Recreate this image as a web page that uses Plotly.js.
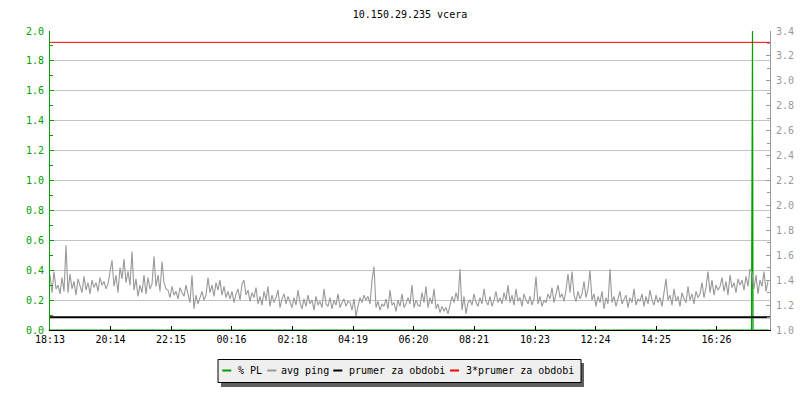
<!DOCTYPE html>
<html>
<head>
<meta charset="utf-8">
<script src="https://cdn.plot.ly/plotly-3.0.1.min.js"></script>
<style>html,body{margin:0;padding:0;background:#fff;}#chart{width:800px;height:400px;}</style>
</head>
<body>
<div id="chart"></div>
<script>
// ---------- DATA ----------
const chartTitle = '10.150.29.235 vcera';
const tickMinutes = [0, 121, 242, 363, 485, 606, 727, 848, 970, 1091, 1212, 1333];
const tickLabels = ['18:13', '20:14', '22:15', '00:16', '02:18', '04:19', '06:20', '08:21', '10:23', '12:24', '14:25', '16:26'];
const seriesNames = ['% PL', 'avg ping', 'prumer za obdobi', '3*prumer za obdobi'];

// avg ping, one sample every 4 minutes starting at 18:13 (right axis, ms)
const pingStepMinutes = 4;
const avgPing = [
  1.44,1.30,1.47,1.33,1.36,1.29,1.42,1.31,1.68,
  1.30,1.45,1.33,1.39,1.28,1.41,1.35,1.30,1.43,1.32,1.38,1.29,
  1.40,1.34,1.38,1.31,1.42,1.36,1.39,1.33,1.37,
  1.46,1.56,1.35,1.44,1.30,1.50,1.41,1.57,1.38,1.47,1.36,
  1.63,
  1.32,1.41,1.27,1.36,1.30,1.44,1.29,
  1.42,1.33,1.37,1.59,1.35,1.44,1.31,1.55,1.38,1.33,
  1.32,1.26,1.35,1.28,1.31,1.25,1.34,1.30,1.27,1.36,
  1.30,1.22,1.44,1.17,1.28,1.21,1.26,1.31,1.24,1.28,
  1.42,1.30,1.36,1.27,1.38,1.32,1.40,1.28,1.35,1.26,1.31,
  1.25,1.31,1.22,1.29,1.33,1.24,1.37,1.40,1.28,1.32,1.23,1.30,1.26,1.34,1.21,
  1.27,1.20,1.31,1.24,1.35,1.19,1.28,1.22,1.26,1.32,1.18,1.25,1.29,1.21,1.27,
  1.23,1.18,1.26,1.20,1.32,1.22,1.17,1.25,1.19,1.28,1.21,1.24,1.16,1.27,1.20,
  1.23,1.18,1.33,1.21,1.19,1.26,1.17,1.24,1.20,1.29,1.18,1.22,1.25,1.19,1.23,
  1.22,1.16,1.25,1.11,1.19,
  1.26,1.22,1.28,1.24,1.27,1.21,1.40,1.51,
  1.18,1.23,1.16,1.21,1.19,1.25,1.17,1.32,1.20,1.22,1.15,1.24,1.19,1.29,1.18,1.21,1.26,
  1.21,1.36,1.18,1.24,1.20,
  1.19,1.30,1.22,1.35,1.18,1.26,1.21,1.33,
  1.17,1.21,1.14,1.19,1.15,1.18,1.13,1.20,
  1.27,1.22,1.30,1.24,
  1.49,
  1.16,1.27,1.13,1.22,
  1.24,1.20,1.29,1.22,1.19,1.26,1.21,1.33,1.23,1.20,1.27,1.19,1.24,1.31,1.22,
  1.26,1.21,1.30,1.24,1.36,1.22,1.28,1.20,1.33,1.23,1.26,1.19,1.29,1.24,1.21,1.27,1.20,1.25,
  1.43,
  1.21,1.27,1.19,1.24,1.22,1.29,
  1.25,1.34,1.22,1.30,1.36,1.26,1.29,1.23,1.32,
  1.45,1.30,1.47,
  1.28,1.23,1.31,1.25,1.29,1.39,1.26,1.33,
  1.48,1.24,1.29,1.19,1.27,1.22,1.31,1.17,1.26,1.21,
  1.49,
  1.22,1.27,1.19,1.25,1.31,1.21,1.24,1.28,1.18,1.26,1.22,1.33,1.20,1.25,1.23,1.29,1.19,1.27,1.21,1.32,1.24,1.20,1.28,1.22,1.26,1.19,1.30,
  1.41,
  1.24,1.28,1.20,1.33,1.23,1.27,1.19,1.30,1.25,1.22,1.35,1.24,1.29,1.21,1.31,1.26,
  1.29,1.38,1.26,1.34,1.47,1.30,1.40,1.28,1.36,1.32,
  1.35,1.42,1.31,1.39,1.28,1.44,1.34,1.38,1.30,1.41,
  1.36,1.40,1.32,1.43,1.35,1.49,1.46,
  1.33,1.44,1.29,1.40,1.35,1.47,1.31,1.39
];

// packet loss (left axis)
const plMinutes = [0, 1403, 1404, 1405, 1406, 1438];
const plValues  = [0, 0, 1.0, 2.0, 0, 0];

// period average and 3x average (right axis)
const periodMinutes = [0, 1440];
const periodAvg = [1.103, 1.103];
const periodAvg3 = [3.309, 3.309];

// ---------- STYLE ----------
const FONT = 'DejaVu Sans Mono, monospace';
const colors = ['#00a000', '#999999', '#000000', '#ff0000'];
const pingMinutes = avgPing.map((_, i) => i * pingStepMinutes);

// plot box in pixels (for placing the hand-drawn legend)
const L = 50, R = 770, T = 31, B = 330;
const px = x => (x - L) / (R - L);
const py = y => (B - y) / (B - T);

const traces = [
  {x: pingMinutes, y: avgPing, yaxis: 'y2', type: 'scatter', mode: 'lines', name: seriesNames[1],
   line: {color: colors[1], width: 1.1}},
  {x: periodMinutes, y: periodAvg, yaxis: 'y2', type: 'scatter', mode: 'lines', name: seriesNames[2],
   line: {color: colors[2], width: 2}},
  {x: periodMinutes, y: periodAvg3, yaxis: 'y2', type: 'scatter', mode: 'lines', name: seriesNames[3],
   line: {color: colors[3], width: 1}},
  {x: plMinutes, y: plValues, yaxis: 'y', type: 'scatter', mode: 'lines', name: seriesNames[0],
   line: {color: colors[0], width: 1.2}}
];

// legend (drawn by hand: short symbols, box with drop shadow)
const legSymX = [222.3, 267.3, 333.3, 450];
const legTextX = [236.7, 280.3, 348, 464.7];
const legY = 370.5;
const shapes = [
  {type: 'rect', xref: 'paper', yref: 'paper', x0: px(221), x1: px(584), y0: py(363), y1: py(387),
   fillcolor: '#606060', line: {width: 0}, layer: 'above'},
  {type: 'rect', xref: 'paper', yref: 'paper', x0: px(218), x1: px(581), y0: py(359.5), y1: py(382.5),
   fillcolor: '#efefef', line: {color: '#000', width: 1}, layer: 'above'}
];
const annotations = [];
seriesNames.forEach((n, i) => {
  shapes.push({type: 'line', xref: 'paper', yref: 'paper', x0: px(legSymX[i]), x1: px(legSymX[i] + 9),
    y0: py(legY), y1: py(legY), line: {color: colors[i], width: 2}, layer: 'above'});
  annotations.push({text: n, xref: 'paper', yref: 'paper', x: px(legTextX[i]), y: py(legY),
    xanchor: 'left', yanchor: 'middle', showarrow: false, font: {family: FONT, size: 10, color: '#000'},
    borderpad: 0});
});

const layout = {
  width: 800, height: 400,
  margin: {l: L, r: 800 - R, t: T, b: 400 - B, pad: 0},
  paper_bgcolor: '#ffffff', plot_bgcolor: '#ffffff',
  showlegend: false,
  font: {family: FONT, size: 10, color: '#000'},
  title: {text: chartTitle, font: {family: FONT, size: 10, color: '#000'},
          x: 0.5, xref: 'paper', xanchor: 'center', y: 1 - 14 / 400, yanchor: 'middle'},
  xaxis: {
    range: [0, 1440], tickvals: tickMinutes, ticktext: tickLabels,
    showgrid: false, zeroline: false, showline: true, linecolor: '#000', linewidth: 1,
    ticks: 'inside', ticklen: 4, tickcolor: '#000', tickwidth: 1,
    tickfont: {family: FONT, size: 10, color: '#000'}, fixedrange: true
  },
  yaxis: {
    range: [0, 2.0], dtick: 0.2, tick0: 0, tickformat: '.1f',
    showgrid: true, gridcolor: '#c4c4c4', gridwidth: 1, zeroline: false,
    showline: true, linecolor: '#00a000', linewidth: 1,
    ticks: 'inside', ticklen: 4, tickcolor: '#00a000',
    minor: {dtick: 0.1, tick0: 0, ticks: 'inside', ticklen: 3, tickcolor: '#00a000', showgrid: false},
    tickfont: {family: FONT, size: 10, color: '#00a000'}, ticklabelstandoff: 3, fixedrange: true
  },
  yaxis2: {
    overlaying: 'y', side: 'right',
    range: [1.0, 3.4], dtick: 0.2, tick0: 1.0, tickformat: '.1f',
    showgrid: false, zeroline: false,
    showline: true, linecolor: '#999999', linewidth: 1,
    ticks: 'inside', ticklen: 4, tickcolor: '#999999',
    minor: {dtick: 0.1, tick0: 1.0, ticks: 'inside', ticklen: 3, tickcolor: '#999999', showgrid: false},
    tickfont: {family: FONT, size: 10, color: '#999999'}, ticklabelstandoff: 3, fixedrange: true
  },
  shapes: shapes,
  annotations: annotations
};

Plotly.newPlot('chart', traces, layout, {displayModeBar: false, staticPlot: true});
</script>
</body>
</html>
